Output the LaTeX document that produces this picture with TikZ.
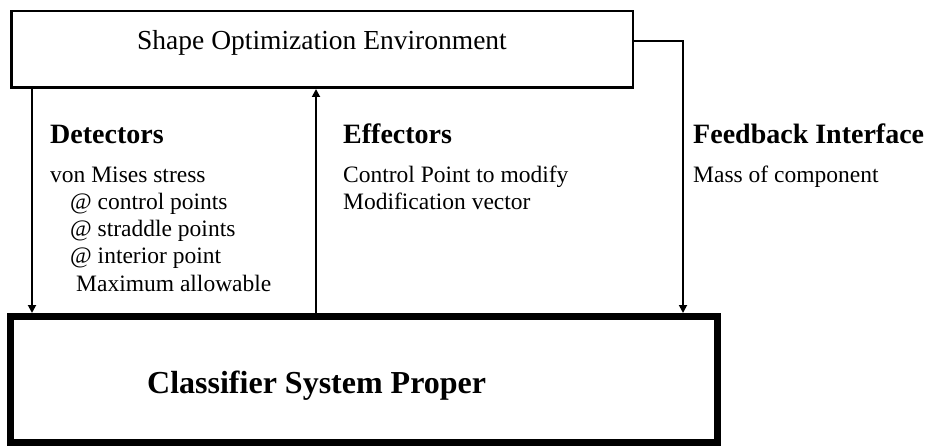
\documentclass[tikz,border=0pt]{standalone}
\usepackage{fontspec}
\setmainfont{Liberation Serif}
\usetikzlibrary{arrows.meta}
\begin{document}
\begin{tikzpicture}[x=1pt,y=-1pt,
  envbox/.style={draw,line width=2.5pt,inner sep=0pt,minimum width=621.5pt,minimum height=76.5pt},
  csbox/.style={draw,line width=7pt,inner sep=0pt,minimum width=707pt,minimum height=126pt},
  flow/.style={line width=1.8pt,-{Triangle[length=8pt,width=8pt]}},
  head/.style={anchor=base west,inner sep=0pt,font=\fontsize{28}{30}\selectfont\bfseries},
  body/.style={anchor=base west,inner sep=0pt,font=\fontsize{23.5}{26}\selectfont},
]
\useasboundingbox (0,0) rectangle (939,446);
% boxes
\node[envbox] (env) at (322,49.5) {};
\node[anchor=base,inner sep=0pt,font=\fontsize{27.5}{30}\selectfont] (envt) at (322,50) {Shape Optimization Environment};
\node[csbox] (cls) at (364,379.5) {};
\node[anchor=base west,inner sep=0pt,font=\fontsize{32}{34}\selectfont\bfseries] (clst) at (147,393) {Classifier System Proper};
% connector positions
\coordinate (dx) at (32,0);
\coordinate (ex) at (316,0);
\coordinate (fb) at (683,41);
\draw[flow] (env.south -| dx) -- (cls.north -| dx);
\draw[flow] (cls.north -| ex) -- (env.south -| ex);
\draw[flow] (env.east |- fb) -- (fb) -- (fb |- cls.north);
% Detectors
\node[head] (dh) at (50,144) {Detectors};
\node[body] (d1) at (50,183) {von Mises stress};
\node[body] (d2) at (70,210) {@ control points};
\node[body] (d3) at (70,237) {@ straddle points};
\node[body] (d4) at (70,264) {@ interior point};
\node[body] (d5) at (76,291) {Maximum allowable};
% Effectors
\node[head] (eh) at (343,144) {Effectors};
\node[body] (e1) at (343,183) {Control Point to modify};
\node[body] (e2) at (343,210) {Modification vector};
% Feedback
\node[head] (fh) at (693,144) {Feedback Interface};
\node[body] (f1) at (693,183) {Mass of component};
\end{tikzpicture}
\end{document}
